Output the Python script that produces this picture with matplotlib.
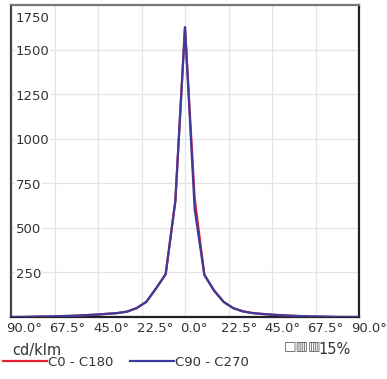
import matplotlib
matplotlib.use("Agg")
import matplotlib.pyplot as plt
import matplotlib.transforms as mtransforms
import numpy as np

# ---- data ----
angles = [-90, -85, -80, -75, -70, -65, -60, -55, -50, -45, -40, -35, -30, -25, -20, -15, -10, -5,
          0, 5, 10, 15, 20, 25, 30, 35, 40, 45, 50, 55, 60, 65, 70, 75, 80, 85, 90]
c0_c180 = [0, 0, 1, 2, 3, 5, 6, 8, 11, 14, 18, 22, 30, 50, 85, 160, 240, 650,
           1625, 665, 238, 150, 85, 50, 32, 22, 17, 13, 10, 7, 5, 3, 2, 1, 0, 0, 0]
c90_c270 = [0, 0, 1, 2, 3, 5, 6, 8, 11, 14, 18, 22, 30, 50, 85, 160, 240, 650,
            1625, 605, 236, 148, 84, 49, 31, 22, 17, 13, 10, 7, 5, 3, 2, 1, 0, 0, 0]
series_names = ["C0 - C180", "C90 - C270"]
x_ticks = [-90, -67.5, -45, -22.5, 0, 22.5, 45, 67.5, 90]
x_tick_labels = ["90.0°", "67.5°", "45.0°", "22.5°", "0.0°", "22.5°", "45.0°", "67.5°", "90.0°"]
y_ticks = [250, 500, 750, 1000, 1250, 1500, 1750]
y_tick_labels = ["250", "500", "750", "1000", "1250", "1500", "1750"]
unit_label = "cd/klm"
scale_label = "15%"

W, H = 387, 379
fig = plt.figure(figsize=(W / 100, H / 100), dpi=100)
ax = fig.add_axes([11 / W, 1 - 317 / H, (359 - 11) / W, (317 - 5) / H])
ax.set_xlim(-90, 90)
ax.set_ylim(0, 1750)

# grid
for xv in x_ticks[1:-1]:
    ax.axvline(xv, color="#e4e4e4", lw=0.9, zorder=0)
for yv in y_ticks[:-1]:
    ax.axhline(yv, color="#e4e4e4", lw=0.9, zorder=0)

red = "#e0202e"
blue = "#3c3c9c"
l1, = ax.plot(angles, c0_c180, color=red, lw=1.6, zorder=3, label=series_names[0])
l2, = ax.plot(angles, c90_c270, color=blue, lw=1.6, zorder=4, label=series_names[1])

ax.set_xticks([])
ax.set_yticks([])
for side, sp in ax.spines.items():
    sp.set_color("#222222")
    sp.set_linewidth(1.6)
ax.spines["top"].set_color("#777777")
ax.spines["left"].set_color("#444444")

fs = 9.5
# y labels inside axes
for v, lab in zip(y_ticks, y_tick_labels):
    if v >= ax.get_ylim()[1]:
        off = mtransforms.ScaledTranslation(5 / 100, -7 / 100, fig.dpi_scale_trans)
        va = "top"
    else:
        off = mtransforms.ScaledTranslation(5 / 100, -2 / 100, fig.dpi_scale_trans)
        va = "center"
    tr = mtransforms.blended_transform_factory(ax.transAxes, ax.transData) + off
    ax.text(0, v, lab, transform=tr, ha="left", va=va, fontsize=fs, color="#333333",
            bbox=dict(facecolor="white", edgecolor="none", pad=0.5), zorder=5)

# x labels below axes
for xv, lab in zip(x_ticks, x_tick_labels):
    dx = -5 if xv <= 0 else -8
    off = mtransforms.ScaledTranslation(dx / 100, -11 / 100, fig.dpi_scale_trans)
    tr = mtransforms.blended_transform_factory(ax.transData, ax.transAxes) + off
    ax.text(xv, 0, lab, transform=tr, ha="left", va="center", fontsize=fs, color="#333333",
            clip_on=False)

fig.text(12 / W, 1 - 350 / H, unit_label, fontsize=10.5, color="#333333", ha="left", va="center")
fig.text(321 / W, 1 - 346 / H, "□▥▥", fontsize=9.5, color="#555555", ha="right", va="center")
fig.text(318 / W, 1 - 349 / H, scale_label, fontsize=10.5, color="#333333", ha="left", va="center")

fig.legend(handles=[l1, l2], loc="center left", bbox_to_anchor=(3 / W, 1 - 362 / H),
           ncol=2, frameon=False, fontsize=fs, handlelength=3.3, handletextpad=0.1,
           columnspacing=1.3, borderpad=0, borderaxespad=0, labelcolor="#333333")

fig.savefig("out.png", dpi=100)
